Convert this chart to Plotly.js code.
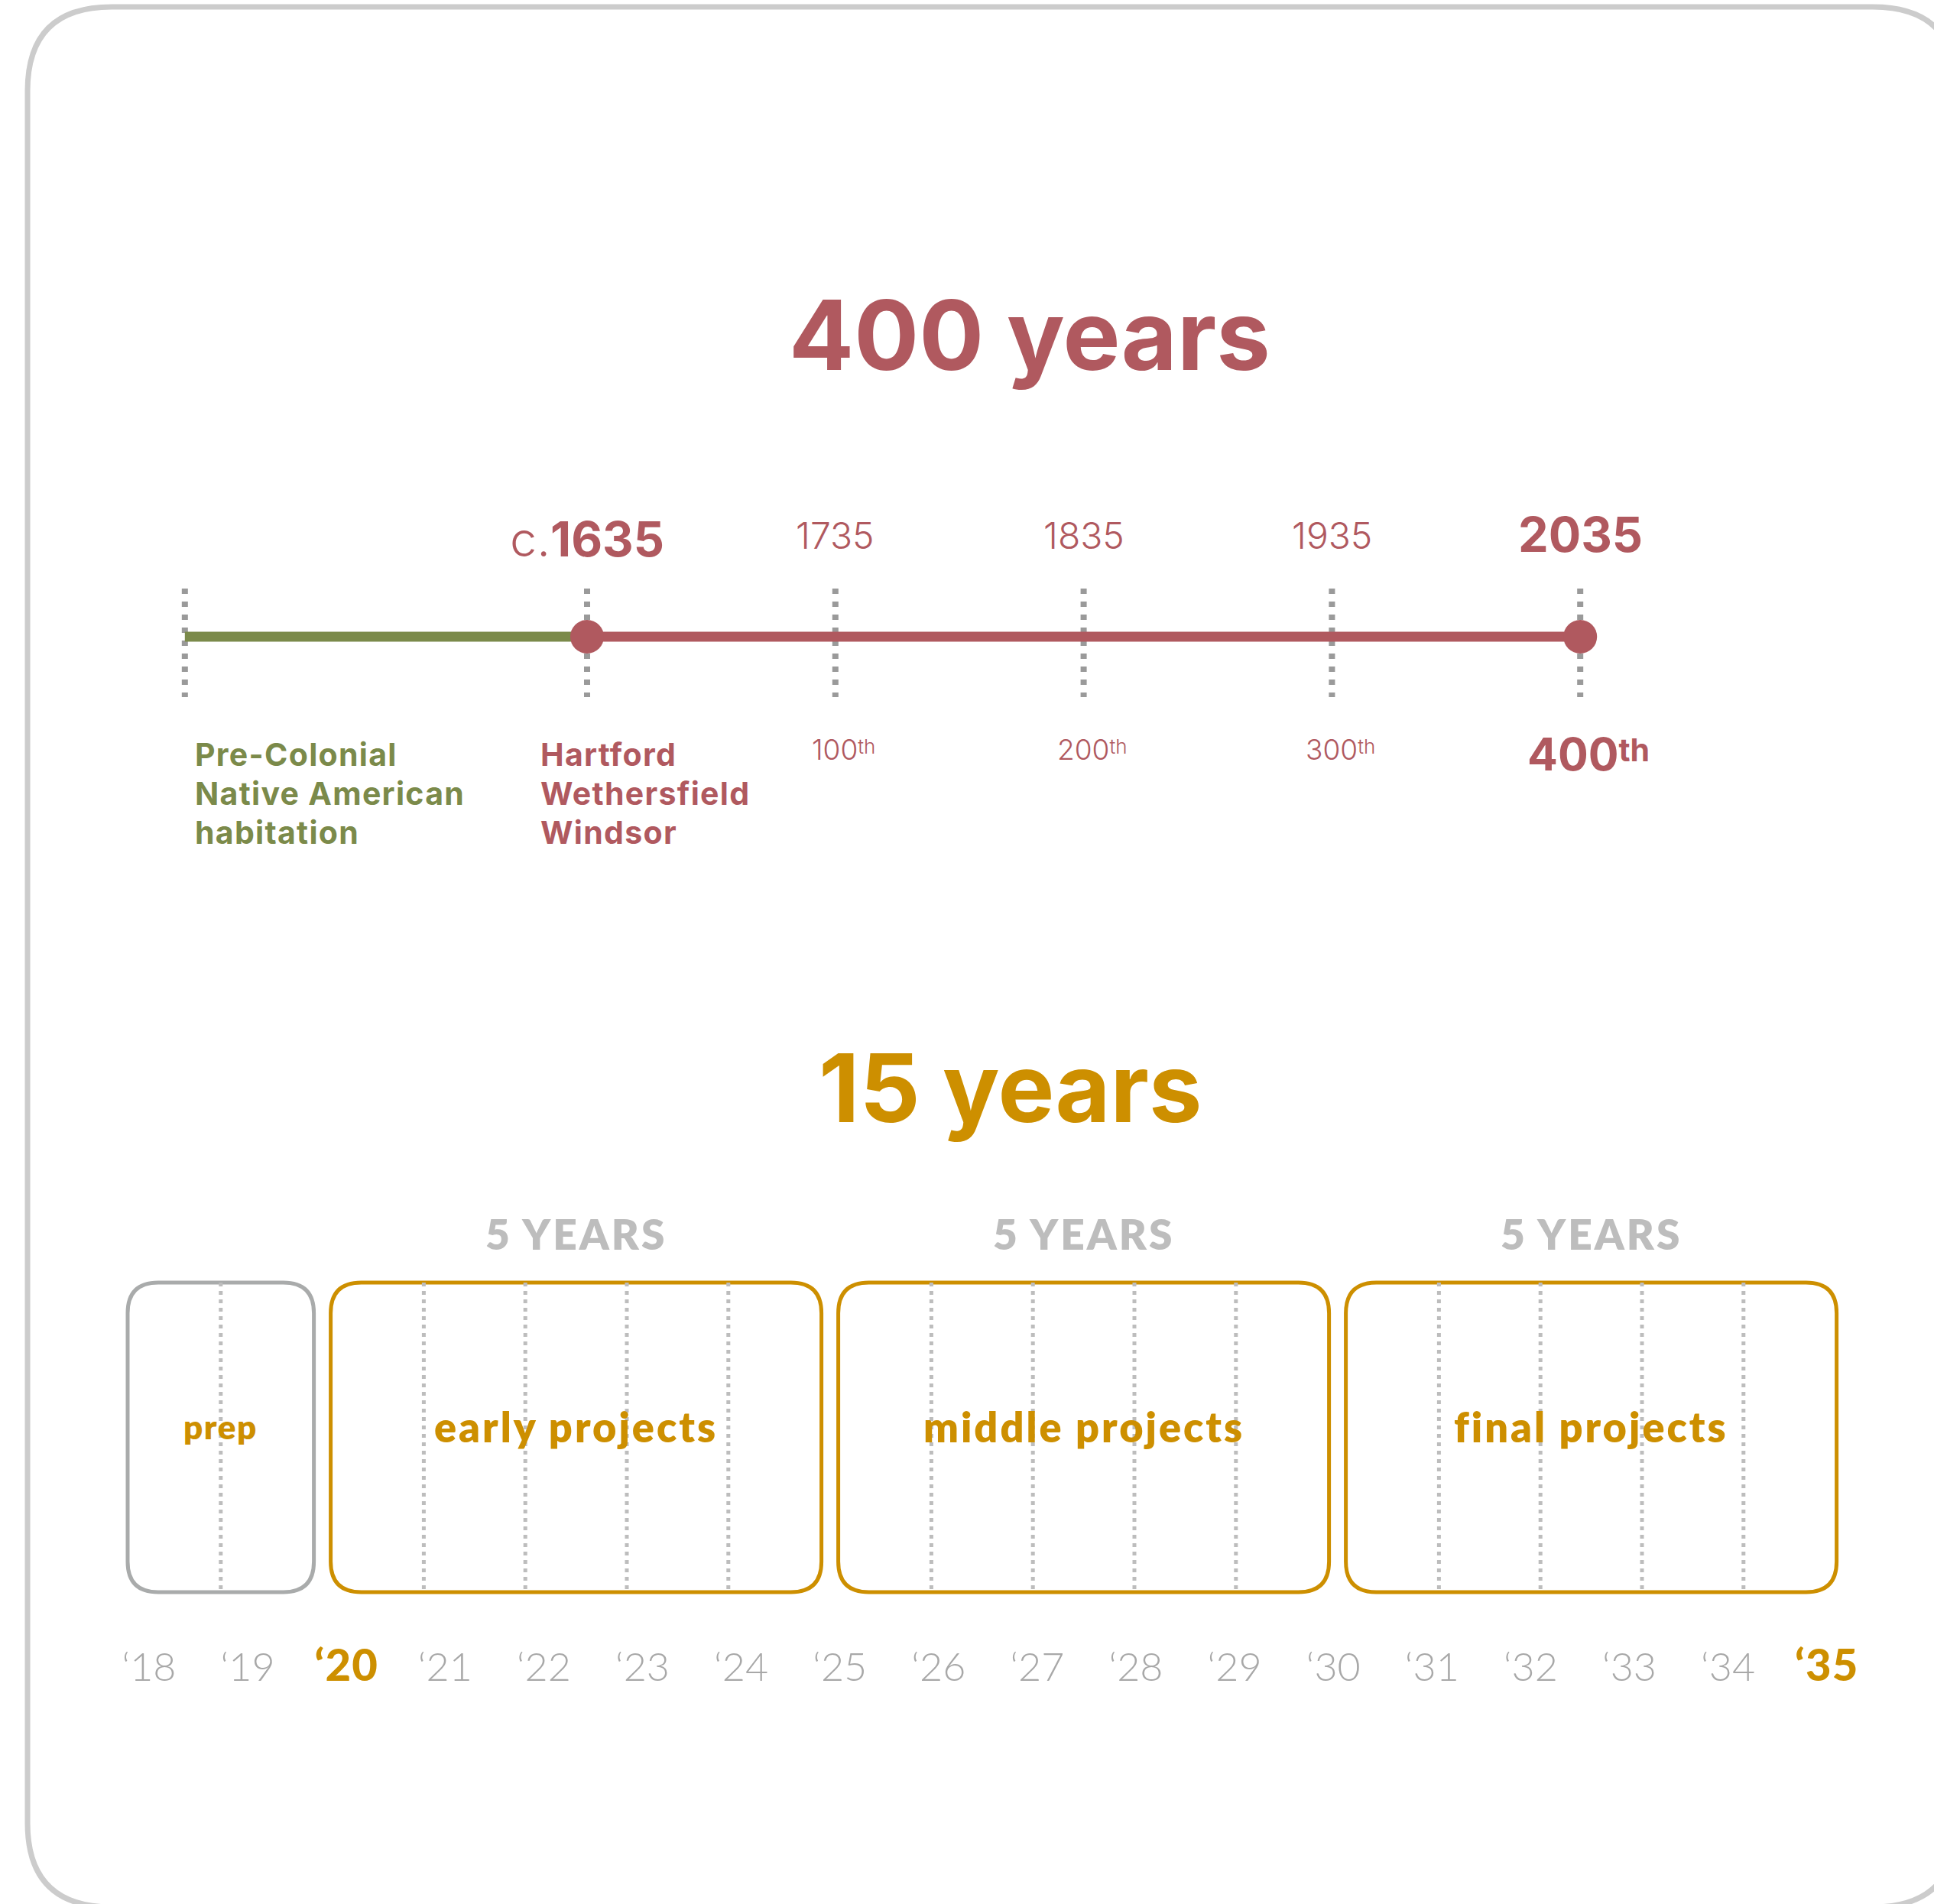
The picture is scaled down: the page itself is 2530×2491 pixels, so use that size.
<!DOCTYPE html>
<html>
<head>
<meta charset="utf-8">
<script src="https://cdn.plot.ly/plotly-3.0.1.min.js"></script>
<style>
  html, body { margin: 0; padding: 0; background: #ffffff; }
  #chart { width: 2530px; height: 2491px; }
</style>
</head>
<body>
<div id="chart"></div>
<script>
// ------------------------------------------------------------------
// DATA : 400-year timeline
// ------------------------------------------------------------------
const preColonialStart = 1473;                 // left end of the pre-colonial bar
const foundingYear = 1635;
const centuryYears = [1635, 1735, 1835, 1935, 2035];
const centuryLabels = ["c.1635", "1735", "1835", "1935", "2035"];
const anniversaryLabels = ["", "100th", "200th", "300th", "400th"];
const preColonialLines = ["Pre-Colonial", "Native American", "habitation"];
const foundingTowns = ["Hartford", "Wethersfield", "Windsor"];
const topTitle = "400 years";

// ------------------------------------------------------------------
// DATA : 15-year plan
// ------------------------------------------------------------------
const tickYears = [2018, 2019, 2020, 2021, 2022, 2023, 2024, 2025, 2026,
                   2027, 2028, 2029, 2030, 2031, 2032, 2033, 2034, 2035];
const tickLabels = ["\u201818", "\u201819", "\u201820", "\u201821", "\u201822", "\u201823",
                    "\u201824", "\u201825", "\u201826", "\u201827", "\u201828", "\u201829",
                    "\u201830", "\u201831", "\u201832", "\u201833", "\u201834", "\u201835"];
const highlightYears = [2020, 2035];
const periodNames = ["prep", "early projects", "middle projects", "final projects"];
const periodStart = [2018, 2020, 2025, 2030];
const periodEnd   = [2020, 2025, 2030, 2035];
const periodHeadline = ["", "5 YEARS", "5 YEARS", "5 YEARS"];
const bottomTitle = "15 years";

// ------------------------------------------------------------------
// STYLE / LAYOUT CONSTANTS (pixels)
// ------------------------------------------------------------------
const W = 2530, H = 2491;
const RED = '#B0595F', GREEN = '#7B8A4A', GOLD = '#CD8F00';
const DOT_GRAY = '#9A9A9A', BOX_GRAY = '#A9ABAB', DIV_GRAY = '#BDBDBD';
const HEAD_GRAY = '#BDBDBD', TICK_GRAY = '#A8A8A8', FRAME_GRAY = '#CCCCCC';
const FONT_TOP = 'Inter, "Noto Sans", sans-serif';
const FONT_BOT = 'Lato, "Open Sans", sans-serif';

// horizontal calibration of the time axes (px per year, reference year -> px)
function axisRange(ppy, refYear, refPx) {
  return [refYear - refPx / ppy, refYear + (W - refPx) / ppy];
}
const TOP_PPY = 3.248;
const topRange = axisRange(TOP_PPY, 1835, 1417.6);     // 400-year line
const BOX_PPY = 132.8;
const boxRange = axisRange(BOX_PPY, 2018, 156);        // period boxes & year dividers
const tickRange = axisRange(129.1, 2018, 195);         // year labels row

// vertical positions (y axis is in page pixels, top = 0)
const LINE_Y = 833, DOT_TOP = 770, DOT_BOT = 912;
const BOX_TOP = 1678, BOX_BOT = 2083, BOX_R = 40, BOX_INSET = 11;
const TICK_AXIS_Y = 2146;
const TEXT_LINE_Y = [987, 1038, 1089];

// ------------------------------------------------------------------
// TRACES
// ------------------------------------------------------------------
const traces = [];

// dotted century markers
const dotX = [], dotY = [];
[preColonialStart].concat(centuryYears).forEach(yr => {
  dotX.push(yr, yr, null); dotY.push(DOT_TOP, DOT_BOT, null);
});
traces.push({ type: 'scatter', mode: 'lines', x: dotX, y: dotY, xaxis: 'x', yaxis: 'y',
  line: { color: DOT_GRAY, width: 8, dash: '7px,10px' }, hoverinfo: 'skip' });

// pre-colonial (green) and colonial (red) bars
traces.push({ type: 'scatter', mode: 'lines', x: [preColonialStart, foundingYear], y: [LINE_Y, LINE_Y],
  xaxis: 'x', yaxis: 'y', line: { color: GREEN, width: 13 }, hoverinfo: 'skip' });
traces.push({ type: 'scatter', mode: 'lines',
  x: [foundingYear, centuryYears[centuryYears.length - 1]], y: [LINE_Y, LINE_Y],
  xaxis: 'x', yaxis: 'y', line: { color: RED, width: 13 }, hoverinfo: 'skip' });
traces.push({ type: 'scatter', mode: 'markers',
  x: [foundingYear, centuryYears[centuryYears.length - 1]], y: [LINE_Y, LINE_Y],
  xaxis: 'x', yaxis: 'y', marker: { color: RED, size: 44, line: { width: 0 } }, hoverinfo: 'skip' });

// year dividers inside each period box
const divX = [], divY = [];
periodStart.forEach((s, i) => {
  for (let yr = s + 1; yr < periodEnd[i]; yr++) {
    divX.push(yr, yr, null); divY.push(BOX_TOP, BOX_BOT, null);
  }
});
traces.push({ type: 'scatter', mode: 'lines', x: divX, y: divY, xaxis: 'x2', yaxis: 'y',
  line: { color: DIV_GRAY, width: 5, dash: '5px,6px' }, hoverinfo: 'skip' });

// carrier for the year-label axis (draws nothing)
traces.push({ type: 'scatter', mode: 'none', x: tickYears, y: tickYears.map(() => TICK_AXIS_Y),
  xaxis: 'x3', yaxis: 'y', hoverinfo: 'skip' });

// ------------------------------------------------------------------
// SHAPES
// ------------------------------------------------------------------
function roundedPath(x0, x1, y0, y1, rx, ry) {
  return `M ${x0 + rx},${y0} L ${x1 - rx},${y0} Q ${x1},${y0} ${x1},${y0 + ry} ` +
         `L ${x1},${y1 - ry} Q ${x1},${y1} ${x1 - rx},${y1} L ${x0 + rx},${y1} ` +
         `Q ${x0},${y1} ${x0},${y1 - ry} L ${x0},${y0 + ry} Q ${x0},${y0} ${x0 + rx},${y0} Z`;
}
const shapes = [];
// outer card frame (paper coordinates)
(function () {
  const L = 36 / W, R = 2560 / W, T = 1 - 9 / H, B = 1 - 2495 / H;
  const rx = 110 / W, ry = -110 / H;
  shapes.push({ type: 'path', xref: 'paper', yref: 'paper', layer: 'below',
    path: roundedPath(L, R, T, B, rx, ry), line: { color: FRAME_GRAY, width: 7 }, fillcolor: 'rgba(0,0,0,0)' });
})();
// period boxes
const rxYears = BOX_R / BOX_PPY, inset = BOX_INSET / BOX_PPY;
periodStart.forEach((s, i) => {
  shapes.push({ type: 'path', xref: 'x2', yref: 'y', layer: 'below',
    path: roundedPath(s + inset, periodEnd[i] - inset, BOX_TOP, BOX_BOT, rxYears, BOX_R),
    line: { color: i === 0 ? BOX_GRAY : GOLD, width: 5 }, fillcolor: 'rgba(0,0,0,0)' });
});

// ------------------------------------------------------------------
// ANNOTATIONS
// ------------------------------------------------------------------
const ann = [];
const base = { showarrow: false, xanchor: 'center', yanchor: 'middle' };

ann.push(Object.assign({}, base, { xref: 'paper', x: 1347 / W, yref: 'y', y: 438, text: topTitle,
  font: { family: FONT_TOP, size: 126, weight: 700, color: RED } }));
ann.push(Object.assign({}, base, { xref: 'paper', x: 1322 / W, yref: 'y', y: 1423, text: bottomTitle,
  font: { family: FONT_TOP, size: 124, weight: 700, color: GOLD } }));

centuryYears.forEach((yr, i) => {
  const major = (i === 0 || i === centuryYears.length - 1);
  const label = major ? centuryLabels[i].replace(/(\d+)/, '<b>$1</b>') : centuryLabels[i];
  ann.push(Object.assign({}, base, { xref: 'x', x: yr, yref: 'y', y: major ? (i === 0 ? 705 : 699) : 700, text: label,
    font: { family: FONT_TOP, size: major ? 63 : 48, weight: 300, color: RED } }));
  if (anniversaryLabels[i]) {
    const fs = major ? 59 : 37;
    const supFs = Math.round(fs * 0.69), lift = Math.round(fs * 0.21);
    let t = anniversaryLabels[i].replace(/(th)$/,
      '<span style="font-size:' + supFs + 'px;baseline-shift:' + lift + 'px">$1</span>');
    if (major) t = '<b>' + t + '</b>';
    ann.push(Object.assign({}, base, { xref: 'x', x: yr, xshift: 11, yref: 'y', y: major ? 986 : 980, text: t,
      font: { family: FONT_TOP, size: fs, weight: 300, color: RED } }));
  }
});

// multi-line labels below the timeline: one annotation per line
preColonialLines.forEach((line, k) => {
  ann.push(Object.assign({}, base, { xref: 'x', x: preColonialStart, xshift: 11, xanchor: 'left',
    yref: 'y', y: TEXT_LINE_Y[k], text: '<span style="letter-spacing:1.3px">' + line + '</span>',
    font: { family: FONT_TOP, size: 41, weight: 700, color: GREEN } }));
});
foundingTowns.forEach((line, k) => {
  ann.push(Object.assign({}, base, { xref: 'x', x: foundingYear, xshift: -63, xanchor: 'left',
    yref: 'y', y: TEXT_LINE_Y[k], text: '<span style="letter-spacing:1.3px">' + line + '</span>',
    font: { family: FONT_TOP, size: 41, weight: 700, color: RED } }));
});

periodStart.forEach((s, i) => {
  const mid = (s + periodEnd[i]) / 2;
  if (periodHeadline[i]) {
    ann.push(Object.assign({}, base, { xref: 'x2', x: mid, yref: 'y', y: 1614,
      text: '<span style="letter-spacing:3px">' + periodHeadline[i] + '</span>',
      font: { family: FONT_BOT, size: 55, weight: 800, color: HEAD_GRAY } }));
  }
  ann.push(Object.assign({}, base, { xref: 'x2', x: mid, yref: 'y', y: 1866,
    text: '<span style="letter-spacing:' + (i === 0 ? 1.5 : 3) + 'px">' + periodNames[i] + '</span>',
    font: { family: FONT_BOT, size: i === 0 ? 44 : 54, weight: 800, color: GOLD } }));
});

// tick labels of the 15-year axis
const tickText = tickYears.map((yr, i) => highlightYears.includes(yr)
  ? '<span style="color:' + GOLD + ';font-size:58px;font-weight:900;letter-spacing:1px">' + tickLabels[i] + '</span>'
  : tickLabels[i]);

// ------------------------------------------------------------------
// LAYOUT
// ------------------------------------------------------------------
const layout = {
  width: W, height: H,
  margin: { l: 0, r: 0, t: 0, b: 0, pad: 0 },
  paper_bgcolor: '#ffffff', plot_bgcolor: '#ffffff',
  showlegend: false,
  xaxis: { range: topRange, visible: false, fixedrange: true },
  xaxis2: { range: boxRange, overlaying: 'x', visible: false, fixedrange: true },
  xaxis3: { range: tickRange, overlaying: 'x', anchor: 'free', position: 1 - TICK_AXIS_Y / H, side: 'bottom',
    tickmode: 'array', tickvals: tickYears, ticktext: tickText, tickangle: 0,
    tickfont: { family: FONT_BOT, size: 52, weight: 300, color: TICK_GRAY },
    showgrid: false, zeroline: false, showline: false, ticks: '', fixedrange: true },
  yaxis: { range: [H, 0], domain: [0, 1], visible: false, fixedrange: true },
  shapes: shapes,
  annotations: ann
};

Plotly.newPlot('chart', traces, layout, { staticPlot: true, displayModeBar: false });
</script>
</body>
</html>
